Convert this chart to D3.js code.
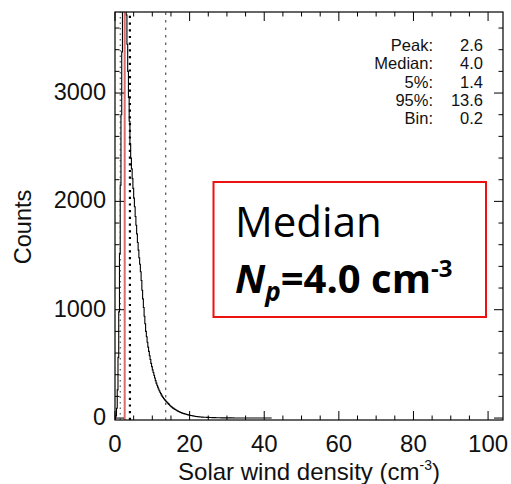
<!DOCTYPE html>
<html><head><meta charset="utf-8">
<script src="https://cdn.jsdelivr.net/npm/d3@7"></script>
<style>html,body{margin:0;padding:0;background:#fff;}svg{display:block;}</style>
</head><body>
<script>
// ---- data ----
const binStart = 0;
const binWidth = 0.2;
const counts = [
  0, 20, 90, 260, 560, 980, 1520, 2150, 2800, 3380,
  3850, 4150, 4300, 4350, 4050, 3720, 3450, 3200, 2960, 2740,
  2530, 2400, 2300, 2210, 2120, 2030, 1950, 1860, 1780, 1700,
  1620, 1550, 1480, 1420, 1350, 1270, 1180, 1100, 1020, 940,
  870, 800, 750, 700, 655, 615, 575, 540, 505, 475,
  445, 420, 395, 370, 345, 322, 303, 285, 268, 252,
  238, 225, 212, 200, 190, 180, 171, 163, 155, 148,
  140, 133, 126, 118, 111, 105, 99, 94, 89, 84,
  80, 76, 72, 68, 64, 61, 57, 54, 51, 48,
  45, 43, 41, 39, 37, 35, 33, 31, 29, 27,
  25, 24, 23, 21, 20, 19, 17, 16, 15, 14,
  13, 12, 12, 11, 10, 10, 9, 9, 8, 8,
  7, 7, 7, 6, 6, 6, 5, 5, 5, 5,
  4, 4, 4, 4, 4, 3, 3, 3, 3, 3,
  3, 3, 2, 3, 2, 2, 2, 2, 2, 2,
  2, 2, 2, 2, 1, 2, 1, 1, 2, 1,
  1, 1, 1, 1, 1, 1, 1, 1, 1, 1,
  1, 1, 1, 1, 1, 1, 0, 1, 1, 0,
  1, 0, 1, 1, 0, 1, 0, 0, 1, 0,
  1, 0, 0, 1, 0, 0, 1, 0, 0, 0,
  0, 0, 0, 0, 0, 0, 0, 0, 0, 0
];
const xTicks = [0, 20, 40, 60, 80, 100];
const yTicks = [0, 1000, 2000, 3000];
const statLabels = ["Peak:", "Median:", "5%:", "95%:", "Bin:"];
const statValues = ["2.6", "4.0", "1.4", "13.6", "0.2"];
const peakValue = 2.6, medianValue = 4.0, p5Value = 1.4, p95Value = 13.6;

// ---- layout ----
const W = 511, H = 484;
const L = 115, R = 503, T = 12, B = 420;
const svg = d3.select("body").append("svg").attr("width", W).attr("height", H);
svg.append("rect").attr("width", W).attr("height", H).attr("fill", "#fff");

const x = d3.scaleLinear().domain([0, 104]).range([L, R]);
const y = d3.scaleLinear().domain([-18, 3748]).range([B, T]);

svg.append("clipPath").attr("id", "clip").append("rect")
  .attr("x", L).attr("y", T).attr("width", R - L).attr("height", B - T);

// histogram step line
const pts = counts.map((c, i) => [binStart + i * binWidth, c]);
pts.push([binStart + counts.length * binWidth, counts[counts.length - 1]]);
const line = d3.line().x(d => x(d[0])).y(d => y(d[1])).curve(d3.curveStepAfter);
const g = svg.append("g").attr("clip-path", "url(#clip)");
g.append("path").datum(pts).attr("d", line)
  .attr("fill", "none").attr("stroke", "#000").attr("stroke-width", 1.1);

// reference lines
g.append("line").attr("x1", x(p5Value)).attr("x2", x(p5Value)).attr("y1", B).attr("y2", T)
  .attr("stroke", "#333").attr("stroke-width", 1).attr("stroke-dasharray", "1.5,4");
g.append("line").attr("x1", x(p95Value)).attr("x2", x(p95Value)).attr("y1", B).attr("y2", T)
  .attr("stroke", "#444").attr("stroke-width", 1.1).attr("stroke-dasharray", "2.5,5");
g.append("line").attr("x1", x(medianValue)).attr("x2", x(medianValue)).attr("y1", B).attr("y2", T)
  .attr("stroke", "#000").attr("stroke-width", 2.2).attr("stroke-dasharray", "2.2,4.5");
g.append("line").attr("x1", x(peakValue)).attr("x2", x(peakValue)).attr("y1", B).attr("y2", T)
  .attr("stroke", "#d04848").attr("stroke-width", 2).attr("stroke-opacity", 0.8);

// axes (ticks inward, mirrored)
const font = "'Liberation Sans', Arial, Helvetica, sans-serif";
const xMinor = d3.range(0, 105, 5).filter(v => v % 20 !== 0);
const yMinor = d3.range(0, 3750, 200).filter(v => v % 1000 !== 0);
const axG = svg.append("g").attr("stroke", "#000").attr("stroke-width", 1);
function tk(v, len, side) {
  if (side === "b") axG.append("line").attr("x1", x(v)).attr("x2", x(v)).attr("y1", B).attr("y2", B - len);
  if (side === "t") axG.append("line").attr("x1", x(v)).attr("x2", x(v)).attr("y1", T).attr("y2", T + len);
  if (side === "l") axG.append("line").attr("x1", L).attr("x2", L + len).attr("y1", y(v)).attr("y2", y(v));
  if (side === "r") axG.append("line").attr("x1", R).attr("x2", R - len).attr("y1", y(v)).attr("y2", y(v));
}
xTicks.forEach(v => { tk(v, 9, "b"); tk(v, 9, "t"); });
xMinor.forEach(v => { tk(v, 4.5, "b"); tk(v, 4.5, "t"); });
yTicks.forEach(v => { tk(v, 9, "l"); tk(v, 9, "r"); });
yMinor.forEach(v => { tk(v, 4.5, "l"); tk(v, 4.5, "r"); });
svg.append("rect").attr("x", L).attr("y", T).attr("width", R - L).attr("height", B - T)
  .attr("fill", "none").attr("stroke", "#000").attr("stroke-width", 1.2);

// tick labels
svg.append("g").selectAll("text").data(xTicks).join("text")
  .attr("x", d => x(d)).attr("y", 452).attr("text-anchor", "middle")
  .attr("font-family", font).attr("font-size", 24).attr("fill", "#111").text(d => d);
svg.append("g").selectAll("text").data(yTicks).join("text")
  .attr("x", 106).attr("y", d => y(d) + 7).attr("text-anchor", "end")
  .attr("font-family", font).attr("font-size", 23.5).attr("fill", "#111").text(d => d);

// axis titles
svg.append("text").attr("transform", "translate(31,227) rotate(-90)").attr("text-anchor", "middle")
  .attr("font-family", font).attr("font-size", 23.5).attr("fill", "#111").text("Counts");
const xt = svg.append("text").attr("x", 309).attr("y", 480).attr("text-anchor", "middle")
  .attr("font-family", font).attr("font-size", 24).attr("fill", "#111");
xt.append("tspan").text("Solar wind density (cm");
xt.append("tspan").attr("font-size", 14).attr("dy", -10).text("-3");
xt.append("tspan").attr("dy", 10).text(")");

// stats
const rowY = [51, 69, 87.5, 106, 124];
svg.append("g").selectAll("text").data(statLabels).join("text")
  .attr("x", 433).attr("y", (d, i) => rowY[i]).attr("text-anchor", "end")
  .attr("font-family", font).attr("font-size", 16.5).attr("fill", "#111").text(d => d);
svg.append("g").selectAll("text").data(statValues).join("text")
  .attr("x", 483).attr("y", (d, i) => rowY[i]).attr("text-anchor", "end")
  .attr("font-family", font).attr("font-size", 16.5).attr("fill", "#111").text(d => d);

// annotation box
svg.append("rect").attr("x", 213.5).attr("y", 182).attr("width", 272.5).attr("height", 135)
  .attr("fill", "#fff").attr("stroke", "#ee1111").attr("stroke-width", 2);
const af = "'Open Sans', 'Noto Sans', sans-serif";
svg.append("text").attr("x", 235).attr("y", 237).attr("font-family", af).attr("font-size", 42)
  .attr("fill", "#000").text("Median");
const t2 = svg.append("text").attr("x", 235).attr("y", 293).attr("font-family", af)
  .attr("font-size", 40).attr("font-weight", "bold").attr("fill", "#000");
t2.append("tspan").attr("font-style", "italic").text("N");
t2.append("tspan").attr("font-style", "italic").attr("font-size", 26).attr("dy", 8).text("p");
t2.append("tspan").attr("dy", -8).text("=4.0 cm");
t2.append("tspan").attr("font-size", 24).attr("dy", -16).text("-3");
</script>
</body></html>
